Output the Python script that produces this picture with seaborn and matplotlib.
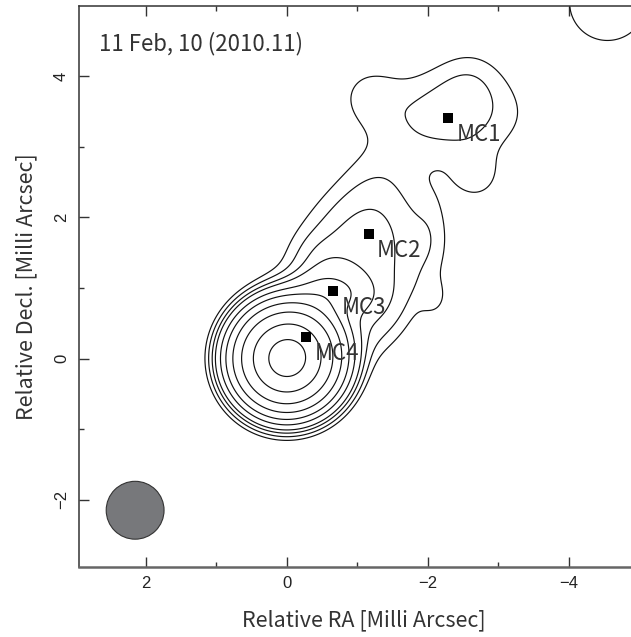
import numpy as np
import matplotlib
matplotlib.use("Agg")
import matplotlib.pyplot as plt
import seaborn as sns
from matplotlib.patches import Ellipse
from matplotlib.ticker import FixedLocator

# ---------------- data ----------------
# Brightness model components (x [mas], y [mas], peak [% of map peak],
# sigma along axis, sigma across axis, axis angle [deg, ccw from +x])
comp_name  = ["core", "MC4", "MC3", "jet", "east", "west", "MC2", "neck", "tail1", "tail2",
              "MC1", "MC1e", "MC1n", "MC1s", "corner"]
comp_x     = [0.00, -0.27, -0.60, -0.95, -0.50, -1.30, -1.15, -1.30, -2.05, -2.10,
              -2.30, -1.15, -2.60, -2.70, -4.55]
comp_y     = [0.00,  0.30,  0.92,  1.30,  1.35,  0.60,  1.85,  2.55,  1.70,  0.85,
              3.45,  3.75,  4.00,  2.55,  5.05]
comp_amp   = [100.0, 4.0,   1.9,   0.90,  0.32,  0.35,  0.25,  0.17,  0.22,  0.22,
              0.60,  0.25,  0.22,  0.30,  0.45]
comp_spar  = [0.34,  0.28,  0.32,  0.80,  0.25,  0.50,  0.45,  0.40,  0.45,  0.20,
              0.80,  0.30,  0.35,  0.28,  0.60]
comp_sperp = [0.34,  0.28,  0.20,  0.60,  0.25,  0.30,  0.45,  0.40,  0.20,  0.15,
              0.48,  0.30,  0.35,  0.28,  0.60]
comp_ang   = [0.0,   0.0,   0.0,   123.0, 0.0,   123.0, 0.0,   0.0,   90.0,  90.0,
              0.0,   0.0,   0.0,   0.0,   0.0]

# contour levels [% of peak]
levels_pct = [0.3, 0.5, 0.8, 1.2, 2.2, 4.0, 8.0, 17.0, 38.0, 76.0]

# model-fit components
mc_names = ["MC1", "MC2", "MC3", "MC4"]
mc_x = [-2.29, -1.16, -0.66, -0.27]
mc_y = [3.41, 1.76, 0.955, 0.30]

# restoring beam
beam_x, beam_y, beam_d = 2.15, -2.15, 0.82

epoch_label = "11 Feb, 10 (2010.11)"
x_major = [2, 0, -2, -4]
x_minor = [1, -1, -3]
y_major = [-2, 0, 2, 4]
y_minor = [-1, 1, 3]
x_ticklabels = ["2", "0", "\u22122", "\u22124"]
y_ticklabels = ["\u22122", "0", "2", "4"]
x_label = "Relative RA [Milli Arcsec]"
y_label = "Relative Decl. [Milli Arcsec]"

# ---------------- style ----------------
sns.set_theme(style="white")
plt.rcParams['font.family'] = ['Noto Sans CJK JP', 'DejaVu Sans']

W, H = 631, 637
fig = plt.figure(figsize=(W / 100, H / 100), dpi=100)
ax_l, ax_r, ax_t, ax_b = 78.7, 631.0, 5.7, 566.7
ax = fig.add_axes([ax_l / W, 1 - ax_b / H, (ax_r - ax_l) / W, (ax_b - ax_t) / H])

# brightness field built from the components
gx = np.linspace(-5.2, 3.2, 700)
gy = np.linspace(-3.2, 5.4, 700)
X, Y = np.meshgrid(gx, gy)
Z = np.zeros_like(X)
for x0, y0, a, sp, sq, ang in zip(comp_x, comp_y, comp_amp, comp_spar, comp_sperp, comp_ang):
    t = np.deg2rad(ang)
    dx, dy = X - x0, Y - y0
    u = dx * np.cos(t) + dy * np.sin(t)
    v = -dx * np.sin(t) + dy * np.cos(t)
    Z += a * np.exp(-0.5 * (u / sp) ** 2 - 0.5 * (v / sq) ** 2)

ax.contour(X, Y, Z, levels=levels_pct, colors="#111111", linewidths=0.85)

# components
sns.scatterplot(x=mc_x, y=mc_y, marker="s", s=62, color="black", linewidth=0, ax=ax, zorder=5)
for n, xx, yy in zip(mc_names, mc_x, mc_y):
    ax.text(xx - 0.12, yy - 0.23, n, ha="left", va="center", fontsize=16, color="#333333")

# beam
ax.add_patch(Ellipse((beam_x, beam_y), beam_d, beam_d, facecolor="#77787b",
                     edgecolor="#333333", linewidth=0.8))

ax.text(2.66, 4.47, epoch_label, ha="left", va="center", fontsize=16, color="#333333")

ax.set_xlim(2.95, -4.88)
ax.set_ylim(-2.95, 5.0)

ax.xaxis.set_major_locator(FixedLocator(x_major))
ax.xaxis.set_minor_locator(FixedLocator(x_minor))
ax.yaxis.set_major_locator(FixedLocator(y_major))
ax.yaxis.set_minor_locator(FixedLocator(y_minor))
ax.set_xticklabels(x_ticklabels, fontfamily="Liberation Sans", fontsize=12)
ax.set_yticklabels(y_ticklabels, fontfamily="Liberation Sans", fontsize=12,
                   rotation=90, va="center")
ax.tick_params(which="both", direction="in", top=True, bottom=True, left=True, right=False,
               colors="#333333", labelcolor="#222222")
ax.tick_params(which="major", length=7, width=1.0, pad=7)
ax.tick_params(which="minor", length=3.5, width=1.0)

for s in ["left", "top"]:
    ax.spines[s].set_color("#333333")
    ax.spines[s].set_linewidth(1.1)
ax.spines["bottom"].set_color("#666666")
ax.spines["bottom"].set_linewidth(1.8)
ax.spines["right"].set_visible(False)

ax.set_xlabel(x_label, fontsize=15.5, color="#333333")
ax.xaxis.set_label_coords((364 - ax_l) / (ax_r - ax_l), -(620 - ax_b) / (ax_b - ax_t))
ax.xaxis.label.set_va("center")
ax.set_ylabel(y_label, fontsize=15.5, color="#333333", labelpad=12)

fig.savefig("out.png", dpi=100)
